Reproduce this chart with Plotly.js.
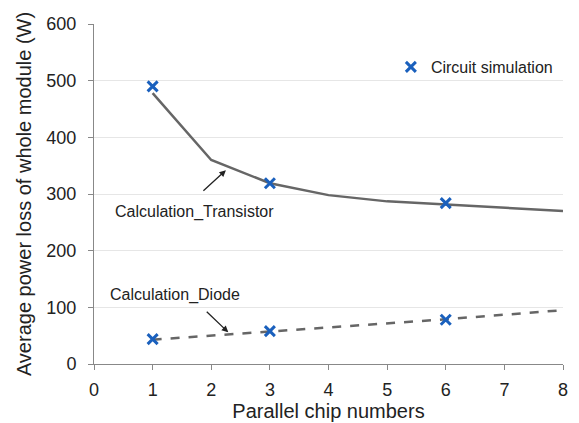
<!DOCTYPE html>
<html><head><meta charset="utf-8">
<script src="https://cdn.plot.ly/plotly-3.0.1.min.js"></script>
<style>body{margin:0;background:#fff}</style>
</head><body><div id="chart" style="width:579px;height:423px"></div>
<script>
var calcX = [1, 2, 3, 4, 5, 6, 7, 8];
var calcTransistor = [478, 360, 319, 298, 287, 281, 275, 270];
var calcDiode = [43, 50, 58, 65, 72, 79, 87, 95];
var simX = [1, 3, 6, 1, 3, 6];
var simY = [490, 319, 284, 44, 58, 78];
var xTicks = [0, 1, 2, 3, 4, 5, 6, 7, 8];
var yTicks = [0, 100, 200, 300, 400, 500, 600];

var traces = [
  {x: calcX, y: calcTransistor, mode: 'lines', line: {color: '#666666', width: 2.5}, showlegend: false, hoverinfo: 'skip'},
  {x: calcX, y: calcDiode, mode: 'lines', line: {color: '#666666', width: 2.5, dash: 'dash'}, showlegend: false, hoverinfo: 'skip'},
  {x: simX, y: simY, mode: 'markers', name: 'Circuit simulation',
   marker: {symbol: 'x-thin-open', size: 10, color: '#1a60bd', line: {color: '#1a60bd', width: 3}}}
];

var layout = {
  width: 579, height: 423,
  margin: {l: 94, r: 16, t: 24, b: 59},
  paper_bgcolor: '#fff', plot_bgcolor: '#fff',
  font: {family: 'Liberation Sans, Arial, sans-serif', color: '#222'},
  xaxis: {range: [0, 8], tickvals: xTicks, ticks: 'outside', ticklen: 5, tickcolor: '#888',
    showline: true, linecolor: '#888', linewidth: 1, showgrid: false, zeroline: false,
    ticklabelstandoff: 4,
    tickfont: {size: 18}, title: {text: 'Parallel chip numbers', font: {size: 20}, standoff: 5}},
  yaxis: {range: [0, 600], tickvals: yTicks, ticks: 'outside', ticklen: 5, tickcolor: '#888',
    showline: true, linecolor: '#888', linewidth: 1, showgrid: true, gridcolor: '#e6e6e6', zeroline: false,
    ticklabelstandoff: 8,
    tickfont: {size: 18}, title: {text: 'Average power loss of whole module (W)', font: {size: 20}, standoff: 9}},
  showlegend: true,
  legend: {x: 0.633, y: 0.8735, xanchor: 'left', yanchor: 'middle', font: {size: 16}, bgcolor: 'rgba(0,0,0,0)'},
  annotations: [
    {x: 2.25, y: 342, xref: 'x', yref: 'y', text: '', showarrow: true, arrowhead: 2, arrowsize: 1, arrowwidth: 1.3, arrowcolor: '#222', ax: -24, ay: 22},
    {x: 1.72, y: 268, xref: 'x', yref: 'y', text: 'Calculation_Transistor', showarrow: false, font: {size: 16}},
    {x: 2.29, y: 56, xref: 'x', yref: 'y', text: '', showarrow: true, arrowhead: 2, arrowsize: 1, arrowwidth: 1.3, arrowcolor: '#222', ax: -23, ay: -22},
    {x: 1.38, y: 122, xref: 'x', yref: 'y', text: 'Calculation_Diode', showarrow: false, font: {size: 16}}
  ]
};
Plotly.newPlot('chart', traces, layout, {displayModeBar: false});
</script></body></html>
